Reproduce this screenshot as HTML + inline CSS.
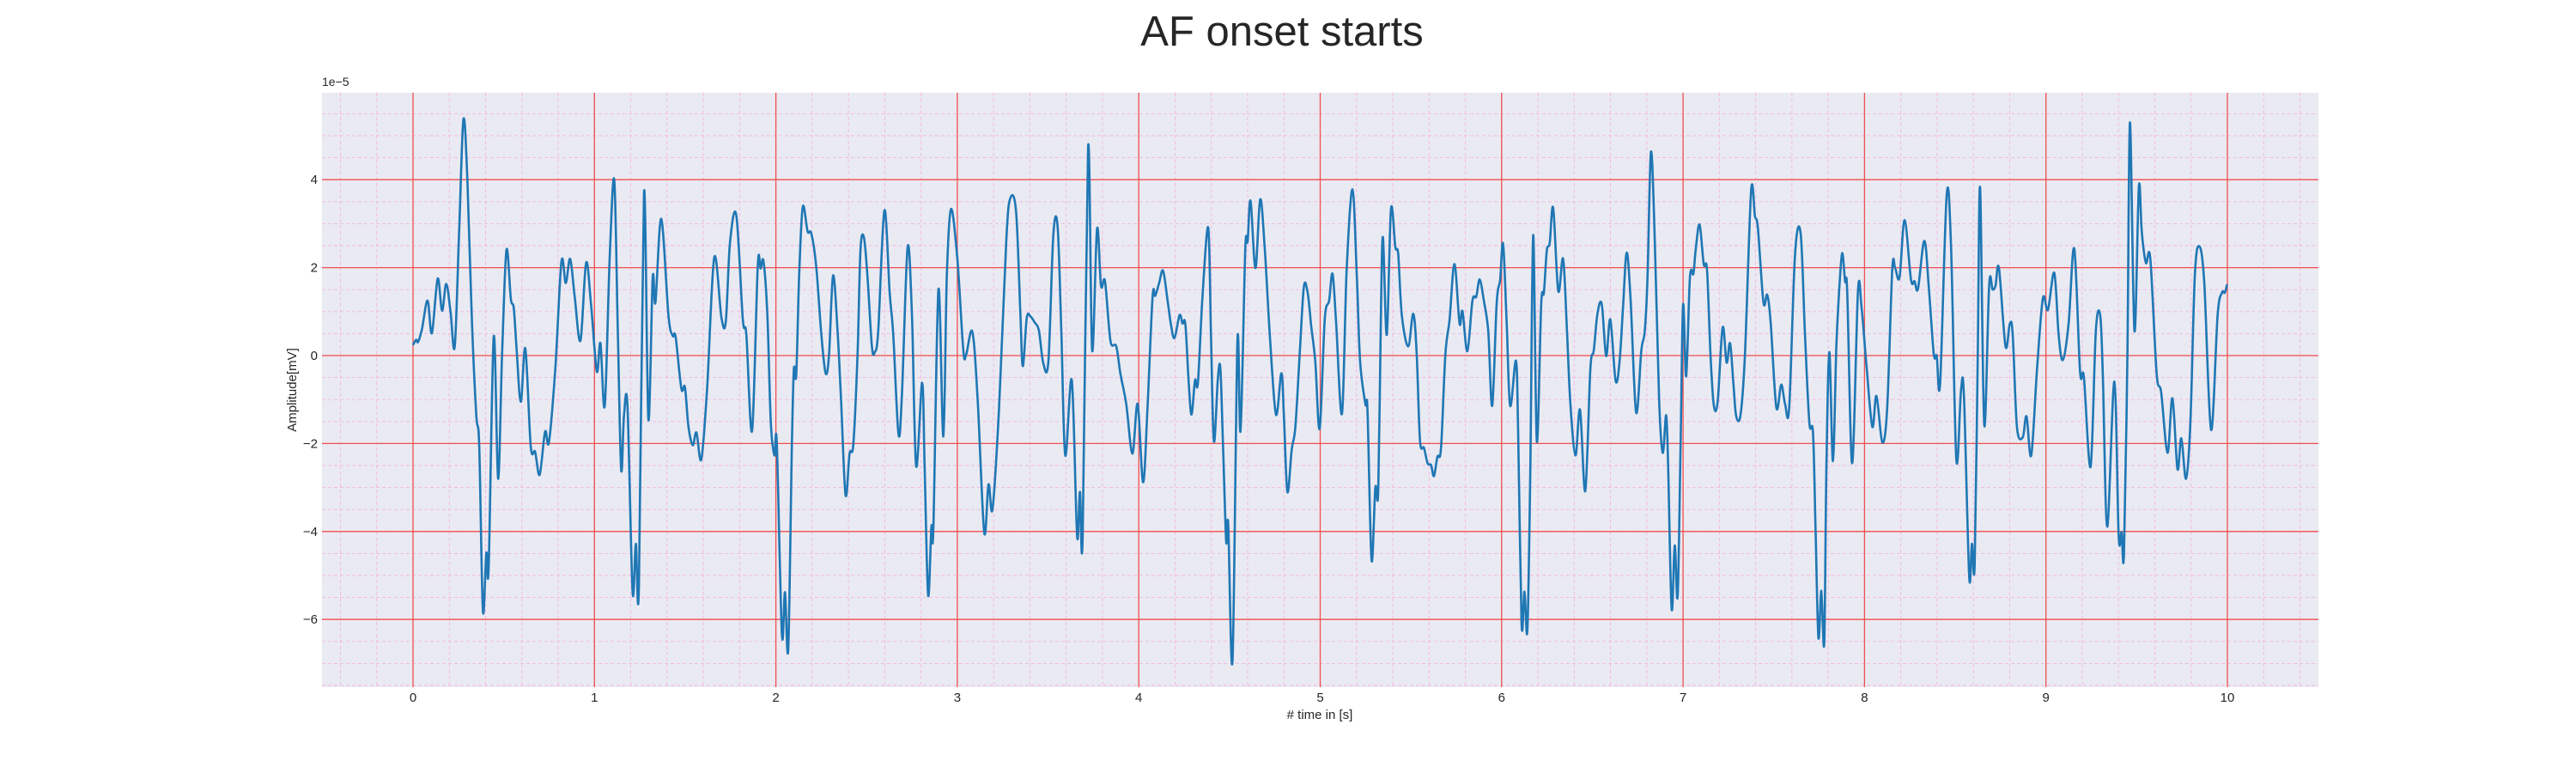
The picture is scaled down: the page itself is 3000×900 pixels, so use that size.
<!DOCTYPE html>
<html><head><meta charset="utf-8"><title>AF onset starts</title>
<style>html,body{margin:0;padding:0;background:#fff;}svg{display:block;font-family:"Liberation Sans",Arial,sans-serif;}</style>
</head><body>
<svg id="chart" width="3000" height="900" viewBox="0 0 3000 900" xmlns="http://www.w3.org/2000/svg">
<text x="1493" y="53" font-size="49" text-anchor="middle" fill="#262626">AF onset starts</text>
<rect x="375" y="108" width="2325" height="692" fill="#eaeaf2"/>
<g id="grid"></g>
<g id="ticks"></g>
<text x="375" y="100" font-size="14" fill="#262626">1e−5</text>
<text transform="translate(345,454) rotate(-90)" font-size="15" text-anchor="middle" fill="#262626">Amplitude[mV]</text>
<text x="1537" y="837" font-size="15" text-anchor="middle" fill="#262626"># time in [s]</text>
<g id="series"></g>
</svg>
<script>
const xTicks = [0,1,2,3,4,5,6,7,8,9,10];
const yTicks = [-6,-4,-2,0,2,4];
const yTickLabels = ["−6","−4","−2","0","2","4"];
const times = [0.00,0.017,0.028,0.049,0.08,0.104,0.136,0.16,0.183,0.207,0.23,0.254,0.278,0.30,0.325,0.349,0.365,0.385,0.404,0.417,0.445,0.469,0.491,0.515,0.539,0.555,0.57,0.594,0.619,0.649,0.673,0.698,0.728,0.749,0.784,0.818,0.842,0.866,0.891,0.923,0.954,0.981,1.013,1.033,1.057,1.084,1.109,1.128,1.147,1.163,1.182,1.21,1.228,1.245,1.273,1.297,1.321,1.336,1.368,1.408,1.431,1.447,1.479,1.499,1.518,1.542,1.562,1.589,1.621,1.66,1.7,1.724,1.747,1.782,1.818,1.837,1.869,1.9,1.916,1.932,1.953,1.972,1.992,2.005,2.033,2.05,2.068,2.088,2.099,2.112,2.128,2.148,2.175,2.195,2.222,2.249,2.274,2.293,2.315,2.34,2.359,2.384,2.406,2.427,2.45,2.466,2.485,2.505,2.529,2.545,2.564,2.598,2.627,2.647,2.676,2.695,2.726,2.75,2.773,2.806,2.82,2.839,2.857,2.868,2.896,2.923,2.942,2.965,3.0,3.033,3.049,3.083,3.112,3.148,3.172,3.194,3.23,3.27,3.293,3.324,3.348,3.361,3.383,3.403,3.427,3.45,3.474,3.502,3.529,3.553,3.573,3.595,3.631,3.66,3.676,3.691,3.721,3.743,3.77,3.792,3.814,3.844,3.876,3.899,3.931,3.965,3.994,4.024,4.049,4.076,4.091,4.112,4.134,4.159,4.178,4.197,4.225,4.241,4.257,4.276,4.291,4.31,4.326,4.351,4.383,4.398,4.414,4.436,4.45,4.465,4.482,4.493,4.517,4.544,4.561,4.587,4.6,4.616,4.643,4.669,4.694,4.721,4.756,4.786,4.8,4.819,4.843,4.863,4.887,4.91,4.931,4.95,4.973,4.997,5.025,5.049,5.068,5.088,5.12,5.146,5.178,5.202,5.22,5.249,5.261,5.283,5.304,5.32,5.335,5.346,5.367,5.39,5.414,5.43,5.45,5.485,5.513,5.532,5.55,5.572,5.592,5.611,5.627,5.646,5.666,5.69,5.713,5.74,5.768,5.784,5.811,5.839,5.86,5.879,5.902,5.926,5.948,5.973,5.992,6.008,6.028,6.047,6.079,6.091,6.11,6.126,6.142,6.158,6.174,6.194,6.218,6.233,6.249,6.265,6.284,6.312,6.339,6.36,6.379,6.407,6.432,6.461,6.489,6.508,6.528,6.552,6.576,6.599,6.628,6.65,6.67,6.689,6.71,6.741,6.77,6.789,6.804,6.823,6.844,6.868,6.888,6.907,6.918,6.937,6.954,6.97,6.986,7.0,7.017,7.038,7.057,7.069,7.091,7.114,7.132,7.151,7.17,7.191,7.218,7.24,7.259,7.278,7.293,7.317,7.341,7.375,7.396,7.412,7.443,7.464,7.483,7.514,7.541,7.562,7.585,7.617,7.648,7.672,7.696,7.716,7.73,7.746,7.762,7.778,7.79,7.806,7.826,7.845,7.861,7.877,7.893,7.905,7.932,7.964,7.984,8.011,8.043,8.066,8.098,8.125,8.153,8.169,8.193,8.221,8.256,8.276,8.295,8.33,8.355,8.382,8.398,8.417,8.453,8.477,8.506,8.532,8.548,8.577,8.592,8.607,8.624,8.637,8.66,8.687,8.706,8.722,8.741,8.777,8.801,8.817,8.84,8.872,8.893,8.919,8.951,8.983,9.011,9.046,9.07,9.093,9.125,9.156,9.188,9.209,9.246,9.275,9.299,9.314,9.338,9.377,9.401,9.417,9.43,9.449,9.463,9.488,9.512,9.528,9.551,9.575,9.61,9.635,9.67,9.697,9.725,9.746,9.772,9.796,9.82,9.844,9.872,9.91,9.946,9.97,9.986,9.998];
const amplitudes = [0.24,0.36,0.31,0.6,1.25,0.51,1.75,1.02,1.63,0.99,0.21,2.82,5.37,3.95,0.73,-1.36,-2.06,-5.8,-4.49,-4.8,0.43,-2.8,0.03,2.40,1.30,1.08,0.21,-1.05,0.16,-2.06,-2.19,-2.71,-1.73,-1.97,-0.31,2.13,1.65,2.2,1.34,0.34,2.11,1.17,-0.36,0.28,-1.14,2.21,4.0,0.73,-2.58,-1.36,-1.17,-5.37,-4.28,-5.24,3.71,-1.45,1.76,1.21,3.11,0.91,0.45,0.43,-0.75,-0.72,-1.62,-2.04,-1.75,-2.36,-0.75,2.23,0.86,0.78,2.56,3.19,0.82,0.47,-1.71,2.04,1.98,2.14,0.91,-1.53,-2.27,-2.01,-6.34,-5.38,-6.67,-2.06,-0.31,-0.44,1.78,3.38,2.82,2.78,2.04,0.56,-0.40,0.03,1.82,0.56,-1.01,-3.17,-2.23,-2.01,0.03,2.39,2.69,1.78,0.21,0.08,0.56,3.3,1.43,0.47,-1.79,-0.84,2.46,0.91,-2.51,-0.62,-2.58,-5.45,-3.89,-3.93,1.5,-1.84,1.78,3.33,2.21,0.12,0.03,0.54,-1.01,-4.02,-2.93,-3.49,-1.19,2.65,3.59,3.26,0.91,-0.24,0.86,0.89,0.75,0.56,-0.18,-0.12,2.74,2.93,0.56,-2.27,-0.56,-4.1,-3.1,-4.1,4.74,0.12,2.88,1.59,1.69,0.34,0.21,-0.42,-1.1,-2.23,-1.1,-2.88,-1.1,1.34,1.36,1.65,1.93,1.25,0.69,0.4,0.92,0.73,0.71,-0.66,-1.34,-0.56,-0.62,1.34,2.91,0.47,-1.95,-0.53,-0.31,-2.14,-4.23,-3.84,-6.93,0.34,-1.71,2.39,2.6,3.52,1.99,3.55,2.47,0.56,-1.34,-0.4,-1.36,-3.1,-2.14,-1.62,0.03,1.56,1.43,0.69,-0.14,-1.66,0.82,1.25,1.86,0.73,-1.32,1.95,3.78,1.78,-0.14,-1.1,-1.27,-4.65,-3.01,-3.06,1.05,2.69,0.47,3.33,2.47,2.3,0.91,0.21,0.95,0.03,-1.93,-2.1,-2.45,-2.49,-2.74,-2.3,-2.1,0.03,0.82,2.08,0.73,1.01,0.1,1.25,1.34,1.73,1.25,0.56,-1.14,1.21,1.73,2.54,0.73,-1.14,-0.12,-1.71,-6.1,-5.37,-6.24,-2.58,2.74,-1.95,1.17,1.43,2.39,2.56,3.36,1.47,2.2,0.56,-1.10,-2.27,-1.23,-3.08,-0.31,0.12,0.95,1.17,-0.01,0.82,-0.57,-0.14,1.17,2.34,1.34,-1.29,0.12,0.56,1.78,4.63,2.65,-1.01,-2.21,-1.36,-2.58,-5.76,-4.32,-5.47,-2.14,1.15,-0.47,1.78,1.86,2.39,2.98,2.08,1.95,0.03,-1.14,-1.03,0.64,-0.16,0.28,-0.66,-1.38,-1.34,0.03,3.74,3.17,2.91,1.21,1.38,0.73,-1.18,-0.66,-1.1,-1.17,2.3,2.78,0.47,-1.53,-1.75,-3.89,-6.41,-5.35,-6.54,-2.58,0.08,-2.4,0.21,1.52,2.33,1.69,1.43,-2.45,1.47,1.08,-0.23,-1.62,-0.92,-1.97,-1.19,1.95,1.99,1.78,3.08,1.73,1.69,1.52,2.61,1.52,0.03,-0.01,-0.62,3.65,2.47,-2.36,-0.79,-0.92,-5.02,-4.28,-4.76,0.03,3.82,-1.58,1.6,1.5,1.59,1.99,0.21,0.73,0.47,-1.62,-1.86,-1.38,-2.27,-0.31,1.3,1.04,1.88,0.47,-0.1,0.73,2.43,-0.36,-0.49,-2.53,0.56,0.91,-0.49,-3.89,-0.59,-4.1,-4.02,-4.5,0.03,5.3,0.56,3.84,2.82,2.11,2.21,-0.4,-0.84,-2.21,-0.97,-2.58,-1.88,-2.8,-1.53,1.78,2.49,1.69,-1.69,0.91,1.43,1.43,1.62];

const NS='http://www.w3.org/2000/svg';
const L=375,R=2700,T=108,B=800;
function xs(t){return 481+t*211.3;}
function ys(v){return 414-v*51.2;}
function mk(tag,attrs,parent){const e=document.createElementNS(NS,tag);for(const k in attrs)e.setAttribute(k,attrs[k]);parent.appendChild(e);return e;}
const grid=document.getElementById('grid');
const ticks=document.getElementById('ticks');
for(let i=-3;i<=52;i++){const t=i*0.2;const x=xs(t);if(x<L||x>R)continue;
  const ln=mk('line',{x1:x,x2:x,y1:T,y2:B,stroke:'#f4b6e2','stroke-width':0.9,'stroke-dasharray':'4,3'},grid);
  
  }
for(let i=-16;i<=12;i++){const v=i*0.5;const y=ys(v);if(y<T||y>B)continue;
  const ln=mk('line',{x1:L,x2:R,y1:y,y2:y,stroke:'#f4b6e2','stroke-width':0.9,'stroke-dasharray':'4,3'},grid);
  
  }
xTicks.forEach(t=>{const x=xs(t);
  const ln=mk('line',{x1:x,x2:x,y1:T,y2:B,stroke:'#f04e4e','stroke-width':1.3},grid);
  
  
  const tx=mk('text',{x:x,y:817,'font-size':15,'text-anchor':'middle',fill:'#262626'},ticks);
  tx.textContent=String(t);
  
  });
yTicks.forEach((v,i)=>{const y=ys(v);
  const ln=mk('line',{x1:L,x2:R,y1:y,y2:y,stroke:'#f04e4e','stroke-width':1.3},grid);
  
  
  const tx=mk('text',{x:370,y:y+5,'font-size':15,'text-anchor':'end',fill:'#262626'},ticks);
  tx.textContent=yTickLabels[i];
  
  });
const pts=times.map((t,i)=>[xs(t),ys(amplitudes[i])]);
let d='M'+pts[0][0].toFixed(1)+','+pts[0][1].toFixed(1);
for(let i=0;i<pts.length-1;i++){
  const p0=pts[Math.max(0,i-1)],p1=pts[i],p2=pts[i+1],p3=pts[Math.min(pts.length-1,i+2)];
  const c1x=p1[0]+(p2[0]-p0[0])/6,c1y=p1[1]+(p2[1]-p0[1])/6;
  const c2x=p2[0]-(p3[0]-p1[0])/6,c2y=p2[1]-(p3[1]-p1[1])/6;
  d+=' C'+c1x.toFixed(1)+','+c1y.toFixed(1)+' '+c2x.toFixed(1)+','+c2y.toFixed(1)+' '+p2[0].toFixed(1)+','+p2[1].toFixed(1);
}
const path=mk('path',{d:d,fill:'none',stroke:'#1f77b4','stroke-width':2.6,'stroke-linejoin':'round'},document.getElementById('series'));


</script>
</body></html>
